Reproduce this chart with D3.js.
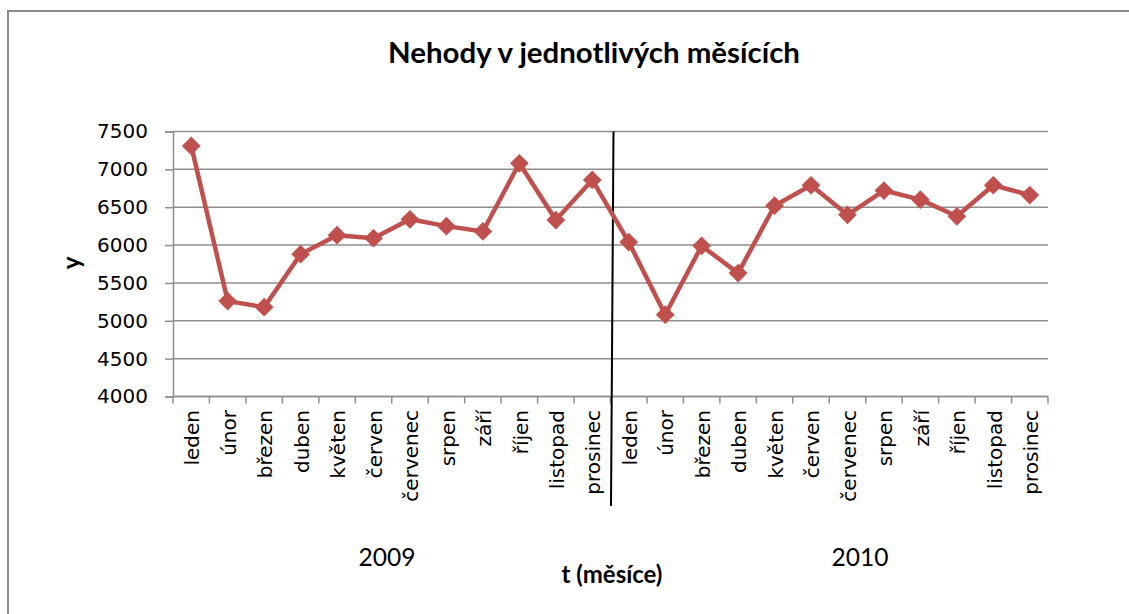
<!DOCTYPE html>
<html><head><meta charset="utf-8">
<script src="https://cdn.jsdelivr.net/npm/d3@7"></script>
<style>html,body{margin:0;padding:0;background:#fff;}svg{display:block;}</style>
</head><body>
<div id="chart"></div>
<script>
const months = ["leden","únor","březen","duben","květen","červen","červenec","srpen","září","říjen","listopad","prosinec"];
const years = ["2009","2010"];
const values2009 = [7310, 5260, 5180, 5880, 6130, 6090, 6340, 6250, 6180, 7080, 6330, 6860];
const values2010 = [6040, 5080, 5990, 5630, 6520, 6790, 6400, 6720, 6600, 6380, 6790, 6660];
const yTicks = [4000, 4500, 5000, 5500, 6000, 6500, 7000, 7500];
const chartTitle = "Nehody v jednotlivých měsících";
const xTitle = "t (měsíce)";
const yTitle = "y";

const data = [];
years.forEach((yr, yi) => {
  const vals = yi === 0 ? values2009 : values2010;
  months.forEach((m, mi) => data.push({i: yi * 12 + mi, month: m, year: yr, value: vals[mi]}));
});

const W = 1129, H = 614;
const svg = d3.select("#chart").append("svg").attr("width", W).attr("height", H);
svg.append("rect").attr("width", W).attr("height", H).attr("fill", "#fff");

// outer frame
svg.append("path").attr("d", `M8,${H+5} L8,11 L${W+5},11`).attr("fill","none")
  .attr("stroke","#8a8a8a").attr("stroke-width",2);

const pLeft = 173, pRight = 1048, pTop = 131.5, pBottom = 396.5;
const x = d3.scaleBand().domain(d3.range(24)).range([pLeft, pRight]).padding(0);
const y = d3.scaleLinear().domain([4000, 7500]).range([pBottom, pTop]);

// gridlines
svg.append("g").selectAll("line").data(yTicks).join("line")
  .attr("x1", pLeft).attr("x2", pRight)
  .attr("y1", d => y(d)).attr("y2", d => y(d))
  .attr("stroke", "#8e8e8e").attr("stroke-width", 1.5);

// y axis
const yAxis = svg.append("g").attr("transform", `translate(${pLeft},0)`)
  .call(d3.axisLeft(y).tickValues(yTicks).tickSize(8).tickPadding(17).tickFormat(d3.format("d")));
yAxis.select(".domain").attr("stroke", "#8e8e8e").attr("stroke-width", 1.5);
yAxis.selectAll(".tick line").attr("stroke", "#8e8e8e").attr("stroke-width", 1.5);
yAxis.selectAll(".tick text").attr("font-family", "DejaVu Sans").attr("font-size", 20).attr("fill", "#000");

// x axis
const xAxisG = svg.append("g");
xAxisG.append("line").attr("x1", pLeft).attr("x2", pRight).attr("y1", pBottom).attr("y2", pBottom)
  .attr("stroke", "#8e8e8e").attr("stroke-width", 1.5);
const boundaries = d3.range(25).map(k => k < 24 ? x(k) : x(23) + x.bandwidth());
xAxisG.selectAll("line.tk").data(boundaries).join("line").attr("class","tk")
  .attr("x1", d => d).attr("x2", d => d).attr("y1", pBottom).attr("y2", pBottom + 7)
  .attr("stroke", "#8e8e8e").attr("stroke-width", 1.5);

// month labels
svg.append("g").selectAll("text").data(data).join("text")
  .attr("transform", d => `translate(${x(d.i) + x.bandwidth()/2 + 1},410) rotate(-90)`)
  .attr("text-anchor", "end").attr("dy", "0.36em")
  .attr("font-family", "DejaVu Sans").attr("font-size", 20).attr("fill", "#000")
  .text(d => d.month);

// year divider
const divX = x(12);
svg.append("line").attr("x1", divX + 3).attr("y1", pTop).attr("x2", divX + 0.5).attr("y2", 506)
  .attr("stroke", "#000").attr("stroke-width", 2);

// series line
const line = d3.line().x(d => x(d.i) + x.bandwidth()/2).y(d => y(d.value));
svg.append("path").datum(data).attr("d", line).attr("fill", "none")
  .attr("stroke", "#C0504D").attr("stroke-width", 4.5).attr("stroke-linejoin", "round");

// diamond markers
const sym = d3.symbol().type(d3.symbolSquare).size(150);
svg.append("g").selectAll("path").data(data).join("path")
  .attr("d", sym)
  .attr("transform", d => `translate(${x(d.i) + x.bandwidth()/2},${y(d.value)}) rotate(45)`)
  .attr("fill", "#C0504D").attr("stroke", "#C0504D").attr("stroke-width", 1);

function fitText(sel, targetWidth) {
  const w = sel.node().getComputedTextLength();
  const fs = parseFloat(sel.attr("font-size"));
  if (w > 0) sel.attr("font-size", fs * targetWidth / w);
}

const t = svg.append("text").attr("x", 594).attr("y", 63).attr("text-anchor", "middle")
  .attr("font-family", "Lato").attr("font-weight", "bold").attr("font-size", 24).attr("fill", "#000")
  .text(chartTitle);
fitText(t, 412);

const yrPos = [387, 860];
years.forEach((yr, k) => {
  const tt = svg.append("text").attr("x", yrPos[k]).attr("y", 566).attr("text-anchor", "middle")
    .attr("font-family", "Lato").attr("font-size", 24).attr("fill", "#000").text(yr);
  fitText(tt, 57);
});

const xt = svg.append("text").attr("x", 612).attr("y", 583).attr("text-anchor", "middle")
  .attr("font-family", "Lato").attr("font-weight", "bold").attr("font-size", 22).attr("fill", "#000")
  .text(xTitle);
fitText(xt, 101);

svg.append("text").attr("transform", "translate(80,263) rotate(-90)").attr("text-anchor", "middle")
  .attr("font-family", "Lato").attr("font-weight", "bold").attr("font-size", 24).attr("fill", "#000")
  .text(yTitle);
</script>
</body></html>
